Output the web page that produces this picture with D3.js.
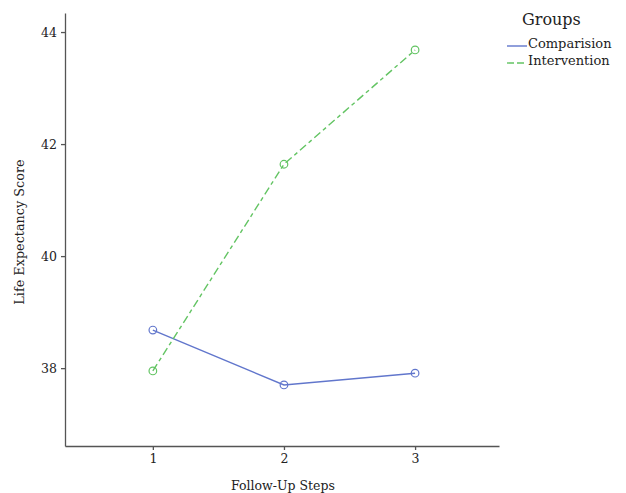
<!DOCTYPE html>
<html>
<head>
<meta charset="utf-8">
<script src="https://cdn.jsdelivr.net/npm/d3@7"></script>
<style>
  body { margin: 0; background: #fff; }
  svg text { font-family: "DejaVu Serif", "Liberation Serif", serif; fill: #222; }
</style>
</head>
<body>
<svg width="626" height="493"></svg>
<script>

// Datos
let pasos = [1, 2, 3]
let comparacion = [38.68, 37.70, 37.91]
let intervencion = [37.95, 41.64, 43.68]
let ticksY = [38, 40, 42, 44]
let grupos = ['Comparision', 'Intervention']

let colores = {'Comparision': '#6176cc', 'Intervention': '#63c463'}
let guiones = {'Comparision': null, 'Intervention': '8,3.5,4,3.5'}

let series = [
  {nombre: 'Comparision', valores: comparacion},
  {nombre: 'Intervention', valores: intervencion}
]

let svg = d3.select('svg')

let x = d3.scaleLinear().domain([0.33, 3.64]).range([65, 499])
let y = d3.scaleLinear().domain([36.61, 44.34]).range([446, 13])

/* Ejes */

let ejeX = svg.append('g')
  .attr('transform', 'translate(0,446)')
  .call(d3.axisBottom(x).tickValues(pasos).tickFormat(d3.format('d')).tickSize(4).tickPadding(4).tickSizeOuter(0))

let ejeY = svg.append('g')
  .attr('transform', 'translate(65,0)')
  .call(d3.axisLeft(y).tickValues(ticksY).tickSize(4).tickPadding(4).tickSizeOuter(0))

svg.selectAll('.domain, .tick line').attr('stroke', '#555').attr('stroke-width', 1.3)
svg.selectAll('.tick text').style('font-size', '12.5px').attr('fill', '#222')

svg.append('text')
  .attr('x', 283).attr('y', 490)
  .attr('text-anchor', 'middle')
  .style('font-size', '12.5px')
  .text('Follow-Up Steps')

svg.append('text')
  .attr('transform', 'translate(24,232) rotate(-90)')
  .attr('text-anchor', 'middle')
  .style('font-size', '12.8px')
  .text('Life Expectancy Score')

/* Líneas */

let linea = d3.line()
  .x((d, i) => x(pasos[i]))
  .y(d => y(d))

let gs = svg.selectAll('g.serie')
  .data(series)
  .enter().append('g')
  .attr('class', 'serie')

gs.append('path')
  .attr('d', d => linea(d.valores))
  .attr('fill', 'none')
  .attr('stroke', d => colores[d.nombre])
  .attr('stroke-width', 1.4)
  .attr('stroke-dasharray', d => guiones[d.nombre])

gs.selectAll('circle')
  .data(d => d.valores.map((v, i) => ({v, i, nombre: d.nombre})))
  .enter().append('circle')
  .attr('cx', d => x(pasos[d.i]))
  .attr('cy', d => y(d.v))
  .attr('r', 3.8)
  .attr('fill', 'none')
  .attr('stroke', d => colores[d.nombre])
  .attr('stroke-width', 1.2)

/* Leyenda */

let leyenda = svg.append('g').attr('transform', 'translate(507,0)')

leyenda.append('text')
  .attr('x', 15).attr('y', 25)
  .style('font-size', '16px')
  .text('Groups')

let items = leyenda.selectAll('g.item')
  .data(grupos)
  .enter().append('g')
  .attr('class', 'item')
  .attr('transform', (d, i) => `translate(0,${46 + i * 17})`)

items.append('line')
  .attr('x1', 0).attr('x2', 20)
  .attr('stroke', d => colores[d])
  .attr('stroke-width', 1.4)
  .attr('stroke-dasharray', d => d == 'Intervention' ? '7,3' : null)

items.append('text')
  .attr('x', 21).attr('y', 2)
  .style('font-size', '13px')
  .text(d => d)

</script>
</body>
</html>
